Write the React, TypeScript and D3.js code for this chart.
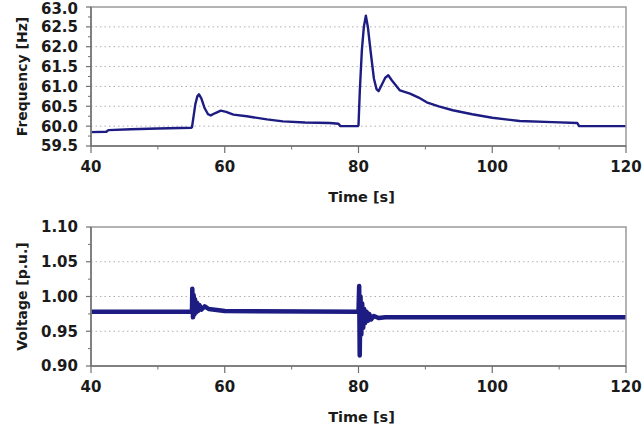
import { scaleLinear, line, range } from "d3";

const timeTicks = [40, 60, 80, 100, 120];
const timeMinor = [50, 70, 90, 110];

const freqTicks = [59.5, 60.0, 60.5, 61.0, 61.5, 62.0, 62.5, 63.0];
const freqGrid = [60.0, 60.5, 61.0, 61.5, 62.0, 62.5];
const voltTicks = [0.9, 0.95, 1.0, 1.05, 1.1];
const voltGrid = [0.95, 1.0, 1.05];

// frequency [Hz] vs time [s]
const freqTime = [
  40, 42.3, 42.6, 46, 50, 55, 55.1, 55.3, 55.6, 55.9, 56.15, 56.5, 57.0, 57.5, 57.9, 58.6, 59.4,
  60.2, 61.3, 63.3, 66.3, 68.7, 72, 75.7, 77, 77.3, 79.9, 80.0, 80.2, 80.5, 80.8, 81.1, 81.4, 81.8,
  82.3, 82.7, 83.0, 83.5, 84.0, 84.45, 85.0, 86.2, 87.7, 89, 90.2, 92, 94.1, 97, 100, 104.1, 109,
  112.7, 113, 120,
];
const freqValue = [
  59.85, 59.86, 59.9, 59.92, 59.94, 59.96, 59.97, 60.2, 60.55, 60.75, 60.8, 60.7, 60.45, 60.3,
  60.27, 60.33, 60.39, 60.36, 60.29, 60.25, 60.17, 60.12, 60.09, 60.08, 60.06, 60.0, 60.0, 60.02,
  60.9, 61.9, 62.5, 62.78, 62.5, 61.9, 61.2, 60.93, 60.88, 61.05, 61.22, 61.28, 61.15, 60.9, 60.82,
  60.72, 60.6, 60.5, 60.4, 60.3, 60.21, 60.13, 60.1, 60.08, 60.0, 60.0,
];

// voltage [p.u.] vs time [s]
const voltTime = [
  40, 55.1, 55.15, 55.25, 55.35, 55.45, 55.55, 55.7, 55.85, 56.0, 56.2, 56.5, 57.0, 57.6, 58.5, 60,
  80.0, 80.1, 80.18, 80.3, 80.42, 80.55, 80.7, 80.85, 81.0, 81.2, 81.4, 81.6, 81.9, 82.3, 83, 84, 120,
];
const voltValue = [
  0.978, 0.978, 1.011, 0.97, 1.002, 0.974, 0.996, 0.977, 0.991, 0.979, 0.988, 0.981, 0.986, 0.982,
  0.981, 0.979, 0.978, 1.015, 0.915, 1.0, 0.945, 0.99, 0.955, 0.982, 0.962, 0.978, 0.965, 0.975,
  0.967, 0.972, 0.969, 0.97, 0.97,
];

const W = 644;
const H = 427;
const left = 91;
const right = 626;
const navy = "#1c1c82";
const font = "'DejaVu Sans', Arial, sans-serif";

type PanelProps = {
  top: number;
  bottom: number;
  domain: [number, number];
  ticks: number[];
  grid: number[];
  fmt: (v: number) => string;
  minorStep: number;
  xs: number[];
  ys: number[];
  width: number;
  label: string;
};

const Panel = ({ top, bottom, domain, ticks, grid, fmt, minorStep, xs, ys, width, label }: PanelProps) => {
  const x = scaleLinear().domain([40, 120]).range([left, right]);
  const y = scaleLinear().domain(domain).range([bottom, top]);
  const minor = range(domain[0] + minorStep, domain[1], minorStep * 2);
  const path = line<number>()
    .x((d) => x(d))
    .y((_, i) => y(ys[i]))(xs);

  return (
    <g>
      {grid.map((g) => (
        <line key={g} x1={left} x2={right} y1={y(g)} y2={y(g)} stroke="#b0b0b0" strokeDasharray="1.5,3" />
      ))}
      <path d={path ?? ""} fill="none" stroke={navy} strokeWidth={width} strokeLinejoin="round" />
      <rect x={left} y={top} width={right - left} height={bottom - top} fill="none" stroke="#9a9a9a" strokeWidth={1.5} />
      <line x1={left} x2={left} y1={top} y2={bottom} stroke="#707070" strokeWidth={1.5} />
      <line x1={left} x2={right} y1={bottom} y2={bottom} stroke="#707070" strokeWidth={1.5} />
      {ticks.map((t) => (
        <g key={t}>
          <line x1={left - 5} x2={left} y1={y(t)} y2={y(t)} stroke="#707070" strokeWidth={1.2} />
          <text x={78} y={Math.max(y(t), 9)} dy="0.36em" textAnchor="end" fontSize={15} fontWeight="bold" fill="#1a1a1a">
            {fmt(t)}
          </text>
        </g>
      ))}
      {minor.map((t) => (
        <line key={t} x1={left - 3} x2={left} y1={y(t)} y2={y(t)} stroke="#707070" strokeWidth={1} />
      ))}
      {timeTicks.map((t) => (
        <g key={t}>
          <line x1={x(t)} x2={x(t)} y1={bottom} y2={bottom + 7} stroke="#707070" strokeWidth={1.2} />
          <text x={x(t)} y={bottom + 26} textAnchor="middle" fontSize={15} fontWeight="bold" fill="#1a1a1a">
            {t}
          </text>
        </g>
      ))}
      {timeMinor.map((t) => (
        <line key={t} x1={x(t)} x2={x(t)} y1={bottom} y2={bottom + 3.5} stroke="#707070" strokeWidth={1} />
      ))}
      <text x={(left + right) / 2 + 3} y={bottom + 56} textAnchor="middle" fontSize={14.5} fontWeight="bold" fill="#1a1a1a">
        Time [s]
      </text>
      <text
        transform={`translate(27,${(top + bottom) / 2}) rotate(-90)`}
        textAnchor="middle"
        fontSize={14}
        fontWeight="bold"
        fill="#1a1a1a"
      >
        {label}
      </text>
    </g>
  );
};

const App = () => {
  return (
    <svg
      width={W}
      height={H}
      style={{ position: "absolute", left: 0, top: 0, background: "#fff", fontFamily: font }}
    >
      <Panel
        top={7}
        bottom={146}
        domain={[59.5, 63.0]}
        ticks={freqTicks}
        grid={freqGrid}
        fmt={(v) => v.toFixed(1)}
        minorStep={0.25}
        xs={freqTime}
        ys={freqValue}
        width={2.4}
        label="Frequency [Hz]"
      />
      <Panel
        top={227}
        bottom={366}
        domain={[0.9, 1.1]}
        ticks={voltTicks}
        grid={voltGrid}
        fmt={(v) => v.toFixed(2)}
        minorStep={0.025}
        xs={voltTime}
        ys={voltValue}
        width={4.5}
        label="Voltage [p.u.]"
      />
    </svg>
  );
};

export default App;
